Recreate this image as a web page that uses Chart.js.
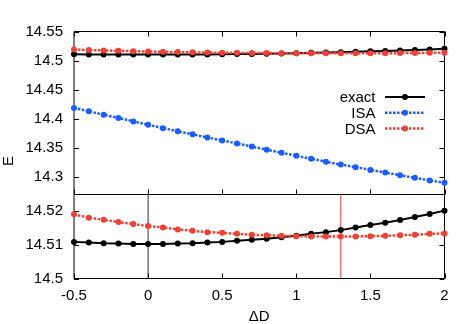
<!DOCTYPE html>
<html><head><meta charset="utf-8">
<script src="https://cdn.jsdelivr.net/npm/chart.js@4.4.1/dist/chart.umd.min.js"></script>
<style>html,body{margin:0;padding:0;background:#fff;}canvas{display:block;}</style>
</head><body>
<canvas id="c" width="463" height="324"></canvas>
<script>
const deltaD = [-0.5,-0.4,-0.3,-0.2,-0.1,0.0,0.1,0.2,0.3,0.4,0.5,0.6,0.7,0.8,0.9,1.0,1.1,1.2,1.3,1.4,1.5,1.6,1.7,1.8,1.9,2.0];
const exactE = [14.5109,14.5107,14.5105,14.5104,14.5103,14.5103,14.5103,14.5104,14.5105,14.5107,14.5109,14.5112,14.5115,14.5118,14.5123,14.5127,14.5133,14.5138,14.5144,14.5152,14.5159,14.5166,14.5174,14.5183,14.5192,14.5202];
const isaE = [14.4188,14.4130,14.4070,14.4015,14.3956,14.3898,14.3840,14.3786,14.3733,14.3680,14.3628,14.3576,14.3524,14.3470,14.3417,14.3365,14.3315,14.3263,14.3214,14.3170,14.3123,14.3077,14.3031,14.2986,14.2942,14.2900];
const dsaE = [14.5191,14.5181,14.5175,14.5168,14.5162,14.5156,14.5152,14.5146,14.5142,14.5138,14.5136,14.5133,14.5130,14.5129,14.5127,14.5126,14.5125,14.5125,14.5125,14.5125,14.5126,14.5127,14.5129,14.5130,14.5133,14.5134];
const topTicks = [14.3,14.35,14.4,14.45,14.5,14.55];
const bottomTicks = [14.5,14.51,14.52];
const xTicks = [-0.5,0,0.5,1,1.5,2];
const markerLinesX = [0, 1.3];
const markerLineColors = ['#333333', '#ee4035'];

const BLUE = '#1a5cff', RED = '#ee4035', BLACK = '#000000';
const FONT = 'Liberation Sans, Arial, sans-serif';
Chart.defaults.font.family = FONT;
Chart.defaults.font.size = 15;
Chart.defaults.color = '#000';

const pts = ys => deltaD.map((x, i) => ({x: x, y: ys[i]}));
function series(label, ys, color, axis, dashed, order) {
  return {
    label, data: pts(ys), yAxisID: axis, xAxisID: 'x',
    borderColor: color, backgroundColor: color,
    borderWidth: dashed ? 2.5 : 2, borderDash: dashed ? [2.5, 1.5] : [],
    pointRadius: 3, pointHoverRadius: 3, pointBorderWidth: 0,
    tension: 0, clip: false, order
  };
}

const frame = {
  id: 'frame',
  beforeDatasetsDraw(chart) {
    const ctx = chart.ctx, a = chart.chartArea;
    const xs = chart.scales.x, yt = chart.scales.yTop, yb = chart.scales.yBot;
    ctx.save();
    ctx.lineWidth = 1;
    markerLinesX.forEach((v, i) => {
      const px = xs.getPixelForValue(v);
      ctx.strokeStyle = markerLineColors[i];
      ctx.beginPath(); ctx.moveTo(px, yb.top); ctx.lineTo(px, yb.bottom); ctx.stroke();
    });
    ctx.strokeStyle = '#000';
    ctx.beginPath();
    ctx.moveTo(a.left, yt.top); ctx.lineTo(a.right, yt.top);
    ctx.moveTo(a.left, yt.bottom); ctx.lineTo(a.right, yt.bottom);
    ctx.moveTo(a.left, yb.bottom); ctx.lineTo(a.right, yb.bottom);
    ctx.moveTo(a.right, yt.top); ctx.lineTo(a.right, yb.bottom);
    ctx.moveTo(a.left, yt.top); ctx.lineTo(a.left, yb.bottom);
    ctx.stroke();
    const L = 5;
    ctx.beginPath();
    [[yt, topTicks], [yb, bottomTicks]].forEach(([s, tks]) => {
      tks.forEach(v => {
        const py = Math.round(s.getPixelForValue(v)) + 0.5;
        ctx.moveTo(a.left, py); ctx.lineTo(a.left + L, py);
        ctx.moveTo(a.right, py); ctx.lineTo(a.right - L, py);
      });
    });
    xTicks.forEach(v => {
      const px = Math.round(xs.getPixelForValue(v)) + 0.5;
      ctx.moveTo(px, yt.top); ctx.lineTo(px, yt.top + L);
      ctx.moveTo(px, yt.bottom); ctx.lineTo(px, yt.bottom - L);
      ctx.moveTo(px, yb.bottom); ctx.lineTo(px, yb.bottom - L);
    });
    ctx.stroke();
    ctx.restore();
  },
  afterDraw(chart) {
    const ctx = chart.ctx, a = chart.chartArea;
    ctx.save();
    ctx.font = '15px ' + FONT;
    ctx.fillStyle = '#000';
    ctx.textAlign = 'center'; ctx.textBaseline = 'middle';
    ctx.translate(9, 161); ctx.rotate(-Math.PI / 2);
    ctx.fillText('E', 0, 0);
    ctx.restore();
    ctx.save();
    ctx.font = '15px ' + FONT;
    const items = chart.data.datasets.filter(d => d.yAxisID === 'yTop')
      .sort((p, q) => q.order - p.order);
    const x1 = a.right - 59.5, x2 = a.right - 19.5, tx = a.right - 69;
    items.forEach((d, i) => {
      const y = a.top + 65.5 + i * 15.7;
      ctx.fillStyle = '#000'; ctx.textAlign = 'right'; ctx.textBaseline = 'middle';
      ctx.fillText(d.label, tx, y + 1);
      ctx.strokeStyle = d.borderColor; ctx.lineWidth = d.borderWidth;
      ctx.setLineDash(d.borderDash);
      ctx.beginPath(); ctx.moveTo(x1, y); ctx.lineTo(x2, y); ctx.stroke();
      ctx.setLineDash([]);
      ctx.fillStyle = d.backgroundColor;
      ctx.beginPath(); ctx.arc((x1 + x2) / 2, y, d.pointRadius, 0, Math.PI * 2); ctx.fill();
    });
    ctx.restore();
  }
};

function yAxis(min, max, weight, tks) {
  return {
    type: 'linear', position: 'left', stack: 'e', stackWeight: weight,
    min, max,
    afterBuildTicks: s => { s.ticks = tks.map(v => ({value: v})); },
    afterFit: s => { s.width = 74; },
    ticks: {padding: 11, color: '#000', font: {size: 15}, autoSkip: false, callback: v => String(v)},
    grid: {display: false, drawTicks: false},
    border: {display: false}
  };
}

new Chart(document.getElementById('c'), {
  type: 'line',
  data: {
    datasets: [
      series('exact', exactE, BLACK, 'yTop', false, 2),
      series('ISA', isaE, BLUE, 'yTop', true, 1),
      series('DSA', dsaE, RED, 'yTop', true, 0),
      series('exact', exactE, BLACK, 'yBot', false, 2),
      series('DSA', dsaE, RED, 'yBot', true, 0)
    ]
  },
  options: {
    responsive: false, animation: false,
    layout: {padding: {left: 0, right: 18.5, top: 31.5, bottom: 0}},
    plugins: {legend: {display: false}, tooltip: {enabled: false}},
    scales: {
      x: {
        type: 'linear', min: -0.5, max: 2,
        afterBuildTicks: s => { s.ticks = xTicks.map(v => ({value: v})); },
        afterFit: s => { s.height = 45.5; },
        ticks: {padding: 8, color: '#000', font: {size: 15}, autoSkip: false, callback: v => String(v), maxRotation: 0},
        grid: {display: false, drawTicks: false},
        border: {display: false},
        title: {display: true, text: 'ΔD', color: '#000', font: {size: 15, lineHeight: 1}, padding: {top: 0, bottom: 0}}
      },
      yBot: yAxis(14.5, 14.525, 84, bottomTicks),
      yTop: yAxis(14.27, 14.55, 163, topTicks)
    }
  },
  plugins: [frame]
});
</script>
</body></html>
